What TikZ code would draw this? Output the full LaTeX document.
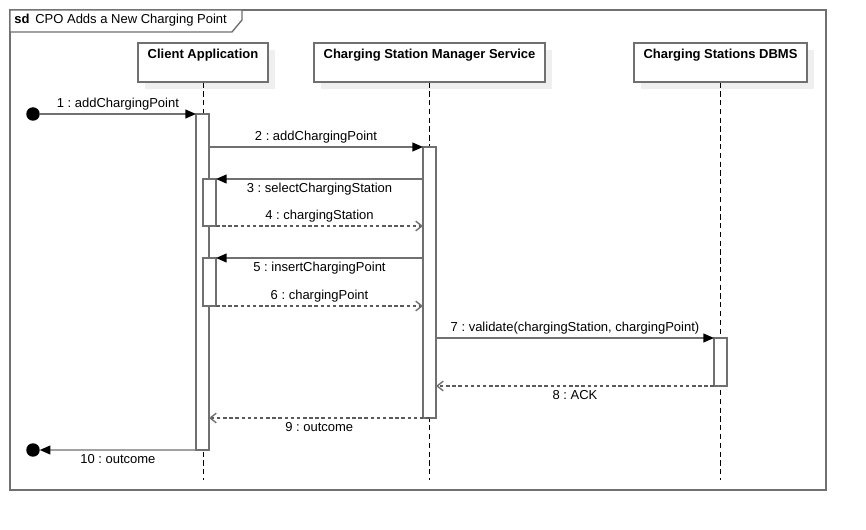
\documentclass[tikz,border=0pt]{standalone}
\usepackage{fontspec}
\setmainfont{Liberation Sans}
\usetikzlibrary{arrows.meta,shadows}
\definecolor{linegray}{HTML}{707070}
\definecolor{shadowgray}{HTML}{EFEFEF}
\frenchspacing

\begin{document}
\begin{tikzpicture}[x=0.02cm,y=-0.02cm,font=\fontsize{7.4}{9}\selectfont,
  head/.style={draw=linegray,line width=0.9pt,fill=white,inner sep=0pt,
    text height=0.31cm,text depth=0.47cm,font=\fontsize{7.4}{9}\selectfont\bfseries,
    drop shadow={shadow xshift=0.14cm,shadow yshift=-0.14cm,fill=shadowgray,opacity=1}},
  actbar/.style={draw=linegray,line width=0.8pt,fill=white,minimum width=0.26cm,inner sep=0pt,outer sep=0pt,anchor=north},
  lifeline/.style={dash pattern=on 3pt off 2pt,line width=0.4pt},
  call/.style={draw=linegray,line width=0.8pt,-{Triangle[length=6pt,width=5pt,color=black]}},
  reply/.style={draw=linegray!80!black,line width=0.8pt,dash pattern=on 2pt off 1.5pt,-{Straight Barb[length=3.5pt,width=5.5pt,color=linegray]}},
  msglabel/.style={inner sep=2pt},
  gate/.style={circle,fill=black,inner sep=0pt,outer sep=0pt,minimum size=0.27cm}]
\useasboundingbox (0,0) rectangle (866,530);

\def\bot{480}
% activation bar: name, x of lifeline, top, bottom
\newcommand{\actbox}[4]{
  \pgfmathsetmacro{\barh}{(#4-#3)*0.02}
  \node[actbar,minimum height=\barh cm] (#1) at (#2,#3) {};
}

% frame
\draw[draw=linegray,line width=1pt] (10,10) rectangle (826,490);
\draw[draw=linegray,line width=0.8pt,fill=white] (10,10) -- (242,10) -- (242,20) -- (232,32) -- (10,32) -- cycle;
\node[anchor=west,inner sep=0pt] (title) at (14,20.5) {\textbf{sd}\, CPO Adds a New Charging Point};

% heads
\node[head,minimum width=2.6cm] (client) at (203,42) [anchor=north] {Client Application};
\node[head,minimum width=4.62cm] (csms) at (429.5,42) [anchor=north] {Charging Station Manager Service};
\node[head,minimum width=3.46cm] (dbms) at (720.5,42) [anchor=north] {Charging Stations DBMS};
\coordinate (bottom) at (0,\bot);

% lifelines
\foreach \who in {client,csms,dbms}
  \draw[lifeline] (\who.south) -- (\who.south |- bottom);

% activations
\actbox{ca1}{202.5}{114}{450}
\actbox{csm1}{429.5}{147}{418}
\actbox{ca2}{209.5}{179}{226}
\actbox{ca3}{209.5}{258}{306}
\actbox{db1}{720.5}{338}{386}

% found and lost messages
\node[gate] (found) at (33,114) {};
\node[gate] (lost) at (33,450) {};

\draw[call] (found) -- (ca1.north west) node[msglabel,midway,above] (l1) {1 : addChargingPoint};
\draw[call] (ca1.east |- csm1.north) -- (csm1.north west) node[msglabel,midway,above] (l2) {2 : addChargingPoint};
\draw[call] (csm1.west |- ca2.north) -- (ca2.north east) node[msglabel,midway,below] (l3) {3 : selectChargingStation};
\draw[reply] (ca2.south east) -- (csm1.west |- ca2.south) node[msglabel,midway,above] (l4) {4 : chargingStation};
\draw[call] (csm1.west |- ca3.north) -- (ca3.north east) node[msglabel,midway,below] (l5) {5 : insertChargingPoint};
\draw[reply] (ca3.south east) -- (csm1.west |- ca3.south) node[msglabel,midway,above] (l6) {6 : chargingPoint};
\draw[call] (csm1.east |- db1.north) -- (db1.north west) node[msglabel,midway,above] (l7) {7 : validate(chargingStation, chargingPoint)};
\draw[reply] (db1.south west) -- (csm1.east |- db1.south) node[msglabel,midway,below] (l8) {8 : ACK};
\draw[reply] (csm1.south) -- (ca1.east |- csm1.south) node[msglabel,midway,below] (l9) {9 : outcome};
\draw[call] (ca1.south west) -- (lost) node[msglabel,midway,below] (l10) {10 : outcome};
\end{tikzpicture}
\end{document}
